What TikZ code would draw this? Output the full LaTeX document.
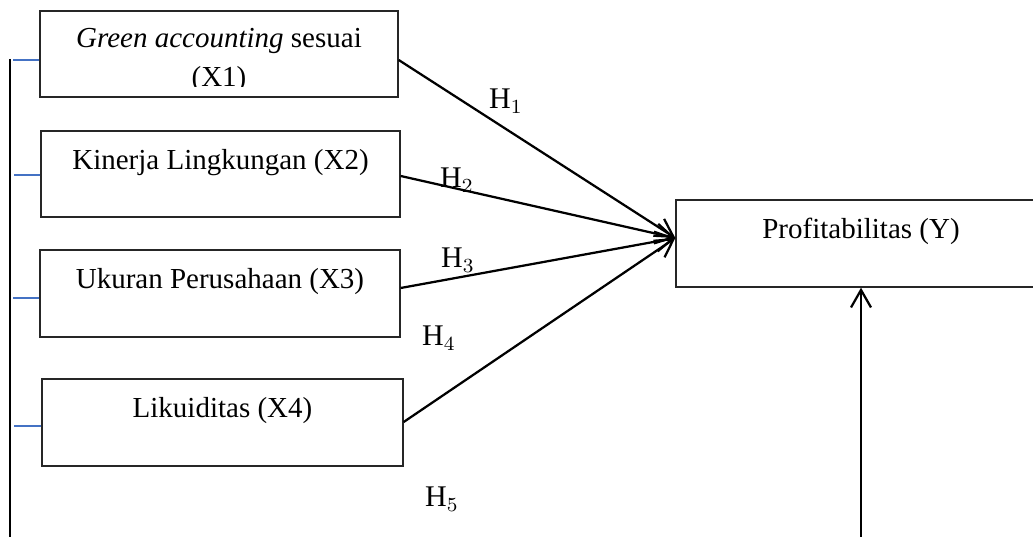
\documentclass[tikz,border=0pt]{standalone}
\usepackage{fontspec}
\setmainfont{Liberation Serif}
\usetikzlibrary{arrows.meta}
\definecolor{tickblue}{RGB}{68,114,196}
\begin{document}
\begin{tikzpicture}[x=0.4pt,y=-0.4pt,
  box/.style={draw=black!85, line width=0.55pt, inner sep=0pt},
  lbl/.style={font=\fontsize{11.6}{14}\selectfont, inner sep=0pt, anchor=mid},
  hyp/.style={font=\fontsize{12}{14.4}\selectfont, inner sep=0pt},
  hyparrow/.style={line width=0.9pt, -{Straight Barb[length=7pt,width=8pt]}},
  tickline/.style={draw=tickblue, line width=0.6pt},
  sideline/.style={draw=black, line width=0.8pt}]
\clip (0,0) rectangle (1033,537);
% boxes
\node[box, minimum width=143.2pt, minimum height=34.4pt] (x1) at (219,54) {};
\node[box, minimum width=143.6pt, minimum height=34.4pt] (x2) at (220.5,174) {};
\node[box, minimum width=144pt, minimum height=34.8pt] (x3) at (220,293.5) {};
\node[box, minimum width=144.4pt, minimum height=34.8pt] (x4) at (222.5,422.5) {};
\node[box, minimum width=148pt, minimum height=34.8pt] (y) at (861,243.5) {};
% texts
\node[lbl] (t1) at ([yshift=-12.4pt]x1.north) {\textit{Green accounting} sesuai};
\begin{scope}
  \clip (40,11) rectangle (398,87);
  \node[lbl] (t1b) at ([yshift=-28.3pt]x1.north) {(X1)};
\end{scope}
\node[lbl] (t2) at ([yshift=-13.4pt]x2.north) {Kinerja Lingkungan (X2)};
\node[lbl] (t3) at ([yshift=-13.2pt]x3.north) {Ukuran Perusahaan (X3)};
\node[lbl] (t4) at ([yshift=-13.4pt]x4.north) {Likuiditas (X4)};
\node[lbl] (ty) at ([yshift=-13.2pt]y.north) {Profitabilitas (Y)};
% hypothesis labels
\node[hyp] (h1) at (506,101) {$\mathrm{H}_1$};
\node[hyp] (h2) at (457,180) {$\mathrm{H}_2$};
\node[hyp] (h3) at (458,260) {$\mathrm{H}_3$};
\node[hyp] (h4) at (439,338) {$\mathrm{H}_4$};
\node[hyp] (h5) at (442,499) {$\mathrm{H}_5$};
% arrows
\coordinate (yin) at ([yshift=2.2pt]y.west);
\draw[hyparrow] ([yshift=-2.4pt]x1.east) -- (yin);
\draw[hyparrow] ([yshift=-0.8pt]x2.east) -- (yin);
\draw[hyparrow] ([yshift=2.2pt]x3.east) -- (yin);
\draw[hyparrow] ([yshift=0.2pt]x4.east) -- (yin);
\coordinate (vbot) at (861,537);
\draw[hyparrow] (vbot) -- (y.south);
% left bracket line
\coordinate (ltop) at (10,59);
\coordinate (lbot) at (10,537);
\draw[sideline] (ltop) -- (lbot);
\coordinate (a1) at ([yshift=-2.4pt]x1.west);
\coordinate (a2) at ([yshift=-0.4pt]x2.west);
\coordinate (a3) at ([yshift=-1.8pt]x3.west);
\coordinate (a4) at ([yshift=-1.4pt]x4.west);
\draw[tickline] (a1) -- ([xshift=1pt]a1 -| ltop);
\draw[tickline] (a2) -- ([xshift=1.6pt]a2 -| ltop);
\draw[tickline] (a3) -- ([xshift=1pt]a3 -| ltop);
\draw[tickline] (a4) -- ([xshift=1.6pt]a4 -| ltop);
\end{tikzpicture}
\end{document}
